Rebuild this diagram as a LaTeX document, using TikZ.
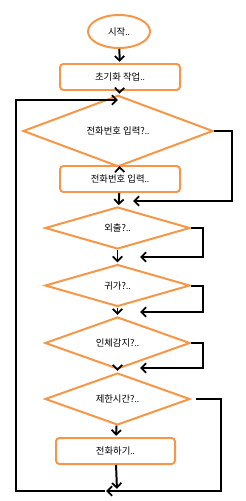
\documentclass[tikz,border=0pt]{standalone}
\usepackage{fontspec}
\setmainfont{Noto Sans CJK KR}
\usetikzlibrary{shapes.geometric,arrows.meta}
\definecolor{arancio}{RGB}{247,150,70}
\newcommand{\mk}{{\scriptsize..}}
\begin{document}
\begin{tikzpicture}[x=0.03cm, y=-0.03cm,
			>={Straight Barb[length=4pt,width=8pt,line width=1.5pt]}, line width=1.7pt,
			blocco/.style={draw=arancio, line width=1.7pt, rounded corners=3pt, minimum width=3.6cm, minimum height=0.78cm, inner sep=0pt, font=\fontsize{8}{10}\selectfont},
			scelta/.style={draw=arancio, line width=1.7pt, diamond, minimum width=4.35cm, minimum height=1.26cm, inner sep=0pt, font=\fontsize{8}{10}\selectfont},
			inizio/.style={draw=arancio, line width=1.7pt, ellipse, minimum width=1.86cm, minimum height=0.99cm, inner sep=0pt, font=\fontsize{8}{10}\selectfont},
			linea/.style={black, line width=1.7pt, shorten >=1pt}]
			\useasboundingbox (0,0) rectangle (245,501);
			
			%% blocchi del diagramma
			\node[inizio] (start) at (119,31.5) {시작\mk};
			\node[blocco] (init) at (120,77) {초기화 작업\mk};
			\node[scelta, minimum width=5.7cm, minimum height=1.32cm] (q1) at (118,131) {전화번호 입력?\mk};
			\node[blocco] (input) at (120,179) {전화번호 입력\mk};
			\node[scelta] (q2) at (117.5,228) {외출?\mk};
			\node[scelta] (q3) at (117.5,285.5) {귀가?\mk};
			\node[scelta] (q4) at (117.5,343) {인체감지?\mk};
			\node[scelta] (q5) at (117.5,399) {제한시간?\mk};
			\node[blocco, minimum width=3.57cm] (call) at (115.5,451) {전화하기\mk};
			
			%% punti di giunzione
			\coordinate (j0) at (119,100);
			\coordinate (r1) at (232,201);
			\coordinate (m1) at (132,201);
			\coordinate (r2) at (203,257);
			\coordinate (m2) at (139,257);
			\coordinate (r3) at (203,312);
			\coordinate (m3) at (139,312);
			\coordinate (r4) at (203,368);
			\coordinate (m4) at (139,368);
			\coordinate (br) at (221,491);
			\coordinate (bl) at (16,491);
			\coordinate (jb) at (105,491);
			\coordinate (cb) at (117,490);
			
			%% frecce principali
			\draw[linea,->] (start) -- (init);
			\draw[linea,->] (init) -- (q1);
			\draw[linea,->] (q1) -- (input);
			\draw[linea,->] (input) -- (q2);
			\draw[linea,->] (q2) -- (q3);
			\draw[linea,->] (q3) -- (q4);
			\draw[linea,->] (q4) -- (q5);
			\draw[linea,->] (q5) -- (call);
			\draw[linea,->] (call) -- (cb);
			
			%% rami laterali
			\draw[linea,->] (q1.east) -| (r1) -- (m1);
			\draw[linea,->] (q2.east) -| (r2) -- (m2);
			\draw[linea,->] (q3.east) -| (r3) -- (m3);
			\draw[linea,->] (q4.east) -| (r4) -- (m4);
			\draw[linea,->] ([xshift=0.15cm]q5.east) -| (br) -- (jb);
			\draw[linea,->] (jb) -- (bl) |- (j0);
		\end{tikzpicture}
\end{document}
